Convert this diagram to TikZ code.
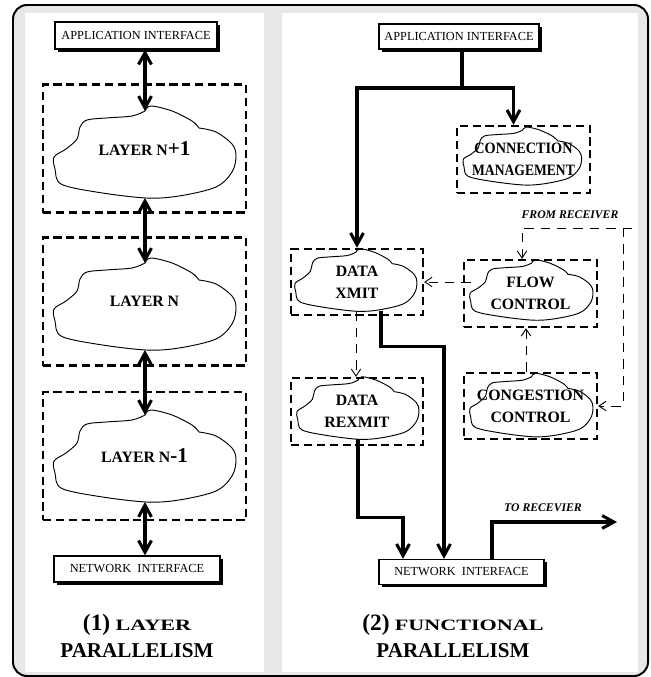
\documentclass[tikz,border=0pt]{standalone}
\usepackage{fontspec}
\setmainfont{Liberation Serif}
\usepackage{graphicx}
\usetikzlibrary{arrows.meta,shadows}

\tikzset{
  ifacebox/.style={draw,line width=1.1pt,fill=white,inner sep=0pt,
    font=\fontsize{10.5}{12}\selectfont,
    drop shadow={opacity=1,fill=black,shadow xshift=2.5pt,shadow yshift=-2.5pt}},
  dashbox/.style={draw,line width=2pt,dash pattern=on 7pt off 4pt,inner sep=0pt,
    align=center,font=\bfseries\fontsize{13.5}{19}\selectfont},
  blobline/.style={line width=0.8pt},
  bigline/.style={line width=2.6pt},
  bigarrow/.style={bigline,-{Straight Barb[length=10pt,width=11pt]}},
  duoarrow/.style={bigline,{Straight Barb[length=10pt,width=11pt]}-{Straight Barb[length=10pt,width=11pt]}},
  sigline/.style={line width=0.8pt,dash pattern=on 8pt off 6pt},
  sigarrow/.style={sigline,-{Straight Barb[length=6pt,width=8pt]}},
  note/.style={font=\bfseries\itshape\fontsize{10}{12}\selectfont},
  titletext/.style={align=center,font=\bfseries\fontsize{18}{23}\selectfont},
  pics/blob/.style={code={
    \draw[blobline] plot[smooth,tension=0.55] coordinates {(0,-41) (6,-46) (27,-41) (47,-31) (54,-24)}
      -- plot[smooth,tension=0.55] coordinates {(54,-24) (71,-20) (87,-8) (91,4) (87,20) (71,35) (34,44)
      (1,46) (-49,40) (-84,32) (-90,17) (-91,5) (-79,-3) (-68,-13) (-65,-25) (-58,-32) (-39,-34)
      (-13,-36) (0,-41)} -- cycle;
    \coordinate (-top) at (0,-41);
    \coordinate (-bot) at (0,46);
  }}
}

\begin{document}
\begin{tikzpicture}[x=0.03cm,y=-0.03cm]
        \useasboundingbox (0,0) rectangle (651,677);
        \draw[line width=1.7pt,fill=black!9,rounded corners=12pt] (13,5) rectangle (648,676);
        \fill[white] (25,13) rectangle (264,672);
        \fill[white] (282,13) rectangle (638,672);

        % layer parallelism
        \node[ifacebox,minimum width=4.86cm,minimum height=0.81cm] (appL) at (136,35.5) {APPLICATION INTERFACE};
        \node[dashbox,minimum width=6.09cm,minimum height=3.84cm] (lay1) at (144.5,148.5)
          {LAYER\ N{\fontsize{18}{18}\selectfont +1}};
        \node[dashbox,minimum width=6.09cm,minimum height=3.84cm] (lay2) at (144.5,301.5) {LAYER\ N};
        \node[dashbox,minimum width=6.09cm,minimum height=3.84cm] (lay3) at (144.5,456)
          {LAYER\ N{\fontsize{18}{18}\selectfont -1}};
        \node[ifacebox,minimum width=4.98cm,minimum height=0.78cm] (netL) at (137,569) {NETWORK\ \ INTERFACE};
        \pic (c1) at (145,152) {blob};
        \pic (c2) at (145,304) {blob};
        \pic (c3) at (145,456) {blob};

        \draw[duoarrow] (appL.south -| c1-top) -- (c1-top);
        \draw[duoarrow] (c1-bot) -- (c2-top);
        \draw[duoarrow] (c2-bot) -- (c3-top);
        \draw[duoarrow] (c3-bot) -- (c3-bot |- netL.north);

        \node[titletext] (ttl1) at (137,636)
          {{\fontsize{20}{23}\selectfont(1)} \scalebox{1.05}[0.75]{LAYER}\\PARALLELISM};

        % functional parallelism
        \node[ifacebox,minimum width=4.8cm,minimum height=0.75cm] (appR) at (459,36.5) {APPLICATION INTERFACE};
        \node[dashbox,minimum width=3.99cm,minimum height=2.01cm] (connbox) at (523.5,159.5)
          {\scalebox{0.9}[1]{CONNECTION}\\\scalebox{0.86}[1]{MANAGEMENT}};
        \node[dashbox,minimum width=3.96cm,minimum height=1.98cm] (xmitbox) at (357,282) {DATA\\XMIT};
        \node[dashbox,minimum width=3.99cm,minimum height=2.01cm] (flowbox) at (530.5,293.5) {FLOW\\CONTROL};
        \node[dashbox,minimum width=3.99cm,minimum height=1.98cm] (congbox) at (530.5,406) {CONGESTION\\CONTROL};
        \node[dashbox,minimum width=3.96cm,minimum height=2.01cm] (rexbox) at (357,411.5) {DATA\\REXMIT};
        \node[ifacebox,minimum width=4.95cm,minimum height=0.75cm] (netR) at (461.5,572) {NETWORK\ \ INTERFACE};
        \pic[xscale=0.65,yscale=0.63] (cc) at (522.5,156) {blob};
        \pic[xscale=0.67,yscale=0.68] (cx) at (356,280) {blob};
        \pic[xscale=0.676,yscale=0.655] (cf) at (531.5,290) {blob};
        \pic[xscale=0.676,yscale=0.69] (cg) at (531.5,405) {blob};
        \pic[xscale=0.67,yscale=0.68] (cr) at (358,408) {blob};

        \coordinate (split) at (462,88);
        \draw[bigline] (appR.south -| split) -- (split);
        \draw[bigarrow] (split) -| (xmitbox.north);
        \draw[bigarrow] (split) -| ([xshift=-0.3cm]connbox.north);

        \node[note] (fromrcv) at (570,215) {FROM RECEIVER};
        \coordinate (rcvin) at (632,228);
        \coordinate (rcvsplit) at (623,228);
        \draw[sigarrow] (rcvin) -| ([xshift=-0.255cm]flowbox.north);
        \draw[sigarrow] (rcvsplit) |- (congbox.east);
        \draw[sigarrow] ([xshift=0.24cm]flowbox.west |- xmitbox.east) -- (xmitbox.east);
        \draw[sigarrow] ([xshift=-0.135cm]congbox.north) -- ([xshift=-0.135cm]flowbox.south);
        \draw[sigarrow] (cx-bot) -- (cx-bot |- rexbox.north);

        \draw[bigarrow] ([xshift=0.75cm]cx-bot) -- ++(0,35) -| ([xshift=-0.525cm]netR.north);
        \draw[bigarrow] (cr-bot) -- ++(0,78) -| ([xshift=-1.755cm]netR.north);
        \coordinate (rcvout) at (617,522);
        \draw[bigarrow] ([xshift=0.915cm]netR.north) |- (rcvout);
        \node[note] (torcv) at (543,508) {TO RECEVIER};

        \node[titletext] (ttl2) at (453,636)
          {{\fontsize{20}{23}\selectfont(2)} \scalebox{1.05}[0.75]{FUNCTIONAL}\\PARALLELISM};
\end{tikzpicture}
\end{document}
